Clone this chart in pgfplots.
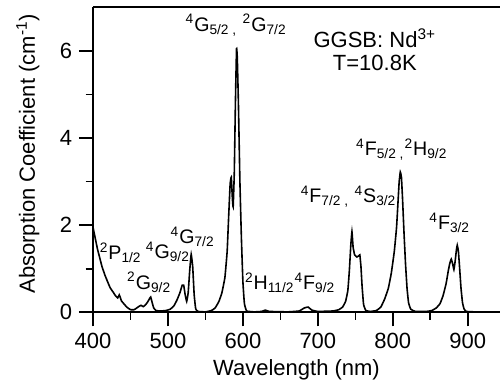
\documentclass[border=0pt]{standalone}
\usepackage{fontspec}
\setmainfont{Liberation Sans}
\usepackage{pgfplots}
\pgfplotsset{compat=1.18}
\begin{document}
\fontsize{9.8}{11}\selectfont
\begin{tikzpicture}
\begin{axis}[
  width=203.5pt, height=152.5pt, scale only axis,
  xmin=400, xmax=943, ymin=0, ymax=7,
  axis lines*=left,
  axis line style={-, line width=1pt},
  clip=false,
  xtick={400,500,600,700,800,900},
  ytick={0,2,4,6},
  minor x tick num=1, minor y tick num=1,
  tick align=outside,
  major tick length=7pt, minor tick length=3.7pt,
  every tick/.style={black, line width=0.8pt},
  /pgf/number format/assume math mode=true,
  tick label style={font=\fontsize{11}{13}\selectfont},
  xlabel={Wavelength (nm)},
  ylabel={Absorption Coefficient (cm\textsuperscript{-1})},
  xlabel style={at={(axis description cs:0.5,-0.19)}, anchor=center, font=\fontsize{11}{13}\selectfont},
  ylabel style={at={(axis description cs:-0.16,0.52)}, anchor=center, font=\fontsize{11}{13}\selectfont},
]
\addplot[black, line width=0.8pt, smooth, tension=0.2] coordinates {
(400,1.95) (403,1.7) (406,1.45) (409,1.25) (412,1.05) (416,0.85) (420,0.68) (423,0.56) (427,0.46) (430,0.38) (433,0.33) (435,0.40) (436,0.36) (438,0.26) (441,0.2) (445,0.12) (450,0.06) (455,0.06) (460,0.12) (464,0.16) (467,0.13) (470,0.17) (473,0.24) (476,0.33) (477,0.35) (479,0.22) (481,0.1) (484,0.04) (490,0.03) (497,0.04) (503,0.07) (508,0.15) (512,0.28) (516,0.45) (519,0.62) (521,0.62) (523,0.40) (525,0.25) (527,0.45) (529,0.95) (531,1.33) (533,1.05) (535,0.4) (537,0.08) (540,0.02) (550,0.01) (558,0.04) (563,0.1) (568,0.25) (572,0.45) (576,0.8) (579,1.4) (581,2.2) (583,2.95) (584.5,3.1) (586,2.6) (587,2.42) (588.5,3.2) (590,4.8) (591.5,6.05) (592.5,5.85) (594,4.8) (596,3.0) (598,1.7) (600,0.7) (602,0.2) (605,0.03) (615,0.01) (625,0.02) (630,0.05) (635,0.02) (660,0.01) (675,0.03) (682,0.1) (687,0.12) (692,0.05) (700,0.02) (720,0.03) (728,0.06) (733,0.12) (737,0.25) (740,0.5) (742,0.95) (744,1.55) (745.5,1.85) (747,1.5) (749,1.32) (752,1.27) (755,1.3) (756,1.32) (757.5,1.05) (759,0.6) (761,0.18) (764,0.04) (770,0.02) (778,0.04) (784,0.12) (789,0.3) (794,0.55) (798,0.9) (802,1.4) (805,1.95) (807,2.55) (808.5,3.0) (810,3.22) (811.5,3.1) (813,2.6) (815,1.8) (817,1.1) (819,0.55) (821,0.22) (824,0.07) (830,0.02) (845,0.02) (852,0.04) (858,0.1) (863,0.2) (867,0.38) (871,0.65) (874,0.95) (876,1.12) (878,1.22) (880,1.1) (881.5,0.98) (883,1.15) (885,1.45) (886,1.54) (887.5,1.4) (889,1.05) (891,0.55) (893,0.22) (895,0.08) (898,0.02) (910,0.01) (943,0.01)
};
\draw[line width=1pt] (rel axis cs:0,1) -- (rel axis cs:1,1);
\node at (axis cs:776,6.28) {\fontsize{11}{13}\selectfont GGSB: Nd\textsuperscript{3+}};
\node at (axis cs:776,5.72) {\fontsize{11}{13}\selectfont T=10.8K};
\node at (axis cs:591,6.59) {\textsuperscript{4}G\textsubscript{5/2 ,} \textsuperscript{2}G\textsubscript{7/2}};
\node at (axis cs:812,3.73) {\textsuperscript{4}F\textsubscript{5/2 ,}\textsuperscript{2}H\textsubscript{9/2}};
\node at (axis cs:741,2.65) {\textsuperscript{4}F\textsubscript{7/2 ,} \textsuperscript{4}S\textsubscript{3/2}};
\node at (axis cs:876,2.05) {\textsuperscript{4}F\textsubscript{3/2}};
\node at (axis cs:663,0.67) {\textsuperscript{2}H\textsubscript{11/2}\textsuperscript{4}F\textsubscript{9/2}};
\node at (axis cs:437,1.36) {\textsuperscript{2}P\textsubscript{1/2}};
\node at (axis cs:475,0.69) {\textsuperscript{2}G\textsubscript{9/2}};
\node at (axis cs:500,1.38) {\textsuperscript{4}G\textsubscript{9/2}};
\node at (axis cs:533,1.73) {\textsuperscript{4}G\textsubscript{7/2}};
\coordinate (bl) at (rel axis cs:0,0);
\coordinate (tr) at (rel axis cs:1,1);
\end{axis}
\pgfresetboundingbox
\path ([xshift=-46.5pt,yshift=-36pt]bl) rectangle ([yshift=3.65pt]tr);
\end{tikzpicture}
\end{document}
